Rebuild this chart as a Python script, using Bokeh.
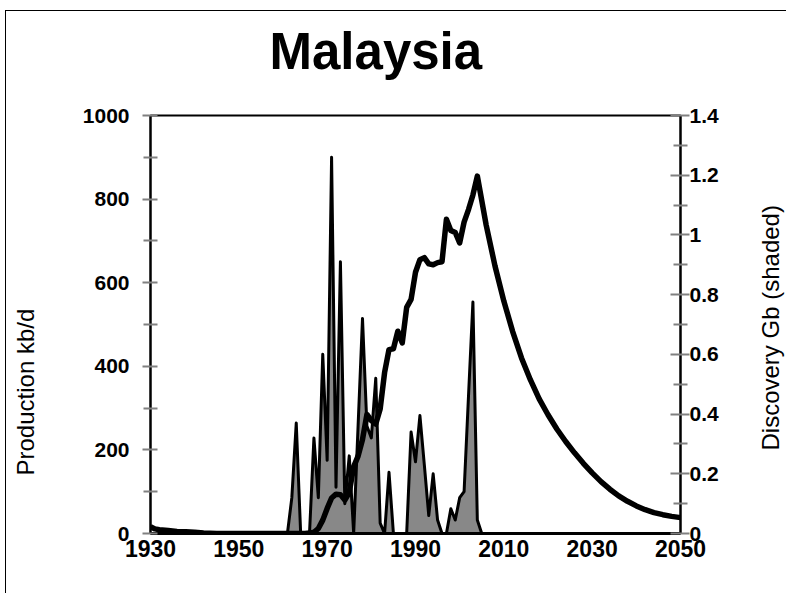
from bokeh.plotting import figure
from bokeh.layouts import row
from bokeh.models import Range1d, LinearAxis, FixedTicker, Title
from bokeh.embed import file_html
from bokeh.resources import INLINE

# Production (kb/d)
prod_years = [1930, 1931, 1932, 1934, 1936, 1938, 1940, 1942, 1945, 1950, 1955, 1960, 1965, 1966,
              1967, 1968, 1969, 1970, 1971, 1972, 1973, 1974, 1975, 1976, 1977, 1978, 1979, 1980,
              1981, 1982, 1983, 1984, 1985, 1986, 1987, 1988, 1989, 1990, 1991, 1992, 1993, 1994,
              1995, 1996, 1997, 1998, 1999, 2000, 2001, 2002, 2003, 2004,
              2006, 2008, 2010, 2012, 2014, 2016, 2018, 2020, 2022, 2024, 2026, 2028, 2030,
              2032, 2034, 2036, 2038, 2040, 2042, 2044, 2046, 2048, 2050]
prod_values = [16, 11, 9, 7, 5, 4, 3, 1, 0, 0, 0, 0, 0, 1,
               3, 12, 32, 60, 85, 94, 93, 80, 98, 160, 185, 225, 285, 270,
               262, 298, 385, 440, 442, 484, 456, 541, 560, 625, 655, 660, 645, 643,
               648, 650, 752, 725, 720, 695, 745, 775, 810, 855,
               738, 640, 556, 483, 420, 368, 322, 284, 250, 220, 193, 168, 145,
               124, 106, 90, 77, 66, 57, 50, 45, 41, 38]

# Discovery (Gb)
disc_years = list(range(1960, 2006))
disc_values = [0, 0, 0.12, 0.37, 0, 0, 0, 0.32, 0.12, 0.60, 0.245, 1.26, 0.155, 0.91, 0.10, 0.26,
               0, 0.36, 0.72, 0.36, 0.32, 0.52, 0.035, 0, 0.205, 0, 0, 0, 0, 0.34,
               0.24, 0.395, 0.23, 0.06, 0.20, 0.045, 0, 0, 0.083, 0.045, 0.12, 0.14, 0.46, 0.775, 0.045, 0]

x_ticks = [1930, 1950, 1970, 1990, 2010, 2030, 2050]
prod_ticks = [0, 200, 400, 600, 800, 1000]
prod_minor = [100, 300, 500, 700, 900]
disc_ticks = [0, 0.2, 0.4, 0.6, 0.8, 1, 1.2, 1.4]
disc_tick_labels = ["0", "0.2", "0.4", "0.6", "0.8", "1", "1.2", "1.4"]
disc_minor = [0.1, 0.3, 0.5, 0.7, 0.9, 1.1, 1.3]

FONT = "Liberation Sans"
GRAY = "#808080"

p = figure(width=750, height=583, output_backend="svg", toolbar_location=None,
           x_range=Range1d(1930, 2050), y_range=Range1d(0, 1000),
           min_border_left=144, min_border_right=76, min_border_top=104, min_border_bottom=61,
           x_axis_location=None, y_axis_location=None)
p.styles = {"margin-left": "5px", "margin-top": "10px",
            "border-left": "1px solid black", "border-top": "1px solid black"}
p.extra_y_ranges = {"disc": Range1d(0, 1.4)}
p.xgrid.visible = False
p.ygrid.visible = False
p.outline_line_color = "black"
p.outline_line_width = 2
p.background_fill_color = "white"
p.border_fill_color = "white"

# Discovery area
p.varea(x=disc_years, y1=[0] * len(disc_years), y2=disc_values, y_range_name="disc",
        fill_color="#888888")
p.line(disc_years, disc_values, y_range_name="disc", line_color="black", line_width=3,
       line_join="round")

# Production line
p.line(prod_years, prod_values, line_color="black", line_width=5.5, line_join="round")

def style_axis(ax, size):
    ax.major_label_text_font = FONT
    ax.major_label_text_font_style = "bold"
    ax.major_label_text_font_size = size
    ax.major_label_text_color = "black"
    ax.axis_line_color = "black"
    ax.axis_line_width = 2
    ax.major_tick_line_color = GRAY
    ax.minor_tick_line_color = GRAY
    ax.major_tick_line_width = 2
    ax.minor_tick_line_width = 2

left = LinearAxis(ticker=FixedTicker(ticks=prod_ticks, minor_ticks=prod_minor))
style_axis(left, "21px")
left.major_tick_out = 8
left.major_tick_in = 7
left.minor_tick_out = 7
left.minor_tick_in = 7
left.major_label_standoff = 13
p.add_layout(left, "left")

right = LinearAxis(y_range_name="disc",
                   ticker=FixedTicker(ticks=disc_ticks, minor_ticks=disc_minor),
                   major_label_overrides=dict(zip(disc_ticks, disc_tick_labels)))
style_axis(right, "21px")
right.major_tick_out = 9
right.major_tick_in = 10
right.minor_tick_out = 7
right.minor_tick_in = 7
right.major_label_standoff = 0
p.add_layout(right, "right")

bottom = LinearAxis(ticker=FixedTicker(ticks=x_ticks, minor_ticks=[]))
style_axis(bottom, "23px")
bottom.axis_line_width = 3
bottom.major_tick_out = 0
bottom.major_tick_in = 0
bottom.minor_tick_out = 0
bottom.minor_tick_in = 0
bottom.major_label_standoff = 6
p.add_layout(bottom, "below")

# Main title: a thin spacer panel keeps it clear of the frame
p.add_layout(Title(text="\u00a0", text_font_size="1px", standoff=33), "above")
p.add_layout(Title(text="Malaysia", align="left", offset=119, standoff=0,
                   text_font=FONT, text_font_style="bold", text_font_size="51px",
                   text_color="black"), "above")

# Left axis title, with a spacer panel between it and the tick labels
p.add_layout(Title(text="\u00a0", text_font_size="1px", standoff=38), "left")
p.add_layout(Title(text="Production kb/d", align="left", offset=58, standoff=0,
                   text_font=FONT, text_font_style="normal", text_font_size="24px",
                   text_color="black"), "left")

# Right axis title: a narrow companion figure whose left title reads bottom-to-top
q = figure(width=31, height=583, output_backend="svg", toolbar_location=None,
           min_border_left=30, min_border_right=0, min_border_top=104, min_border_bottom=61,
           x_axis_location=None, y_axis_location=None)
q.styles = {"margin-top": "10px", "border-top": "1px solid black"}
q.xgrid.visible = False
q.ygrid.visible = False
q.outline_line_color = None
q.background_fill_color = "white"
q.border_fill_color = "white"
q.add_layout(Title(text="Discovery Gb (shaded)", align="left", offset=83, standoff=0,
                   vertical_align="top",
                   text_font=FONT, text_font_style="normal", text_font_size="24px",
                   text_color="black"), "left")

layout = row(p, q, spacing=0)
open("out.html", "w").write(file_html(layout, INLINE))
